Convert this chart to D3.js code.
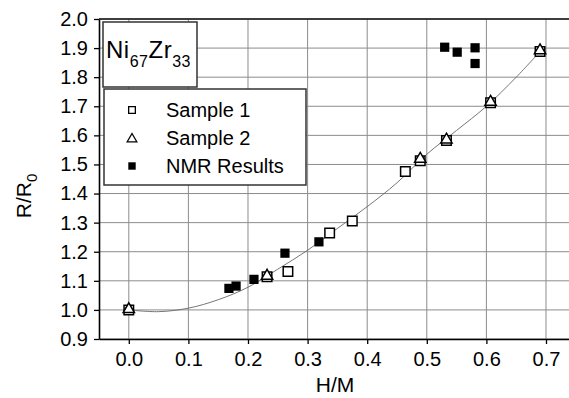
<!DOCTYPE html>
<html>
<head>
<meta charset="utf-8">
<script src="https://cdn.jsdelivr.net/npm/d3@7"></script>
<style>
  body { margin: 0; background: #fff; }
  svg { display: block; font-family: "Liberation Sans", Arial, sans-serif; }
</style>
</head>
<body>
<div id="chart"></div>
<script>
// values
var xTicks = [0.0, 0.1, 0.2, 0.3, 0.4, 0.5, 0.6, 0.7];
var yTicks = [0.9, 1.0, 1.1, 1.2, 1.3, 1.4, 1.5, 1.6, 1.7, 1.8, 1.9, 2.0];

var sample1X = [0.000, 0.232, 0.267, 0.337, 0.375, 0.464, 0.489, 0.533, 0.607, 0.690];
var sample1Y = [1.000, 1.114, 1.132, 1.264, 1.306, 1.476, 1.513, 1.582, 1.712, 1.888];

var sample2X = [0.000, 0.232, 0.489, 0.533, 0.607, 0.690];
var sample2Y = [1.002, 1.117, 1.519, 1.585, 1.715, 1.892];

var nmrX = [0.168, 0.180, 0.210, 0.262, 0.319, 0.530, 0.551, 0.581, 0.581];
var nmrY = [1.074, 1.082, 1.105, 1.195, 1.234, 1.903, 1.886, 1.901, 1.847];

var fitX = [0.00, 0.05, 0.10, 0.15, 0.20, 0.25, 0.30, 0.35, 0.40, 0.45, 0.50, 0.55, 0.60, 0.65, 0.69];
var fitY = [1.000, 0.994, 1.006, 1.035, 1.078, 1.140, 1.205, 1.280, 1.355, 1.437, 1.535, 1.617, 1.700, 1.800, 1.888];

var legendLabels = ["Sample 1", "Sample 2", "NMR Results"];

var W = 569, H = 398;
var margin = {top: 19, right: 0, bottom: 59, left: 99},
    width = W - margin.left - margin.right,
    height = H - margin.top - margin.bottom;

var x = d3.scaleLinear().domain([-0.05, 0.7386]).range([0, width]),
    y = d3.scaleLinear().domain([0.9, 2.0]).range([height, 0]);

var svg = d3.select("#chart").append("svg")
    .attr("width", W)
    .attr("height", H);

var g = svg.append("g")
    .attr("transform", "translate(" + margin.left + "," + margin.top + ")");

// grid
g.append("g").selectAll("line")
    .data(xTicks)
    .enter().append("line")
    .attr("x1", function(d) { return x(d); })
    .attr("x2", function(d) { return x(d); })
    .attr("y1", 0)
    .attr("y2", height)
    .attr("stroke", "#8c8c8c")
    .attr("stroke-width", 1);

g.append("g").selectAll("line")
    .data(yTicks)
    .enter().append("line")
    .attr("x1", 0)
    .attr("x2", width)
    .attr("y1", function(d) { return y(d); })
    .attr("y2", function(d) { return y(d); })
    .attr("stroke", "#8c8c8c")
    .attr("stroke-width", 1);

// top border
g.append("line")
    .attr("x1", 0).attr("x2", width)
    .attr("y1", 0).attr("y2", 0)
    .attr("stroke", "#111").attr("stroke-width", 1.5);

// axes
var xAxis = g.append("g")
    .attr("transform", "translate(0," + height + ")")
    .call(d3.axisBottom(x).tickValues(xTicks).tickFormat(d3.format(".1f")).tickSize(5).tickPadding(8).tickSizeOuter(0));

var yAxis = g.append("g")
    .call(d3.axisLeft(y).tickValues(yTicks).tickFormat(d3.format(".1f")).tickSize(5).tickPadding(6).tickSizeOuter(0));

[xAxis, yAxis].forEach(function(a) {
    a.select(".domain").attr("stroke", "#000").attr("stroke-width", 1.6);
    a.selectAll(".tick line").attr("stroke", "#000").attr("stroke-width", 1.3);
    a.selectAll("text").attr("fill", "#000").style("font-size", "20px");
});

// fitted curve
var line = d3.line()
    .x(function(d) { return x(d[0]); })
    .y(function(d) { return y(d[1]); })
    .curve(d3.curveCatmullRom);

g.append("path")
    .datum(fitX.map(function(v, i) { return [v, fitY[i]]; }))
    .attr("fill", "none")
    .attr("stroke", "#666")
    .attr("stroke-width", 0.9)
    .attr("d", line);

// markers
var sq = d3.symbol().type(d3.symbolSquare).size(90),
    tri = d3.symbol().type(d3.symbolTriangle).size(55),
    fsq = d3.symbol().type(d3.symbolSquare).size(85);

g.append("g").selectAll("path")
    .data(sample1X.map(function(v, i) { return [v, sample1Y[i]]; }))
    .enter().append("path")
    .attr("d", sq)
    .attr("transform", function(d) { return "translate(" + x(d[0]) + "," + y(d[1]) + ")"; })
    .attr("fill", "#fff").attr("stroke", "#000").attr("stroke-width", 1.5);

g.append("g").selectAll("path")
    .data(sample2X.map(function(v, i) { return [v, sample2Y[i]]; }))
    .enter().append("path")
    .attr("d", tri)
    .attr("transform", function(d) { return "translate(" + x(d[0]) + "," + y(d[1]) + ")"; })
    .attr("fill", "#fff").attr("stroke", "#000").attr("stroke-width", 1.5);

g.append("g").selectAll("path")
    .data(nmrX.map(function(v, i) { return [v, nmrY[i]]; }))
    .enter().append("path")
    .attr("d", fsq)
    .attr("transform", function(d) { return "translate(" + x(d[0]) + "," + y(d[1]) + ")"; })
    .attr("fill", "#000");

// composition box
svg.append("rect")
    .attr("x", 103).attr("y", 22).attr("width", 94).attr("height", 65)
    .attr("fill", "#fff").attr("stroke", "#333").attr("stroke-width", 1.5);

var title = svg.append("text")
    .attr("x", 106).attr("y", 58)
    .style("font-size", "24px").style("letter-spacing", "0.5px").attr("fill", "#000");
title.append("tspan").text("Ni");
title.append("tspan").attr("dy", 9).style("font-size", "16px").text("67");
title.append("tspan").attr("dy", -9).text("Zr");
title.append("tspan").attr("dy", 9).style("font-size", "16px").text("33");

// legend
var legend = svg.append("g");
legend.append("rect")
    .attr("x", 104).attr("y", 89).attr("width", 202).attr("height", 96)
    .attr("fill", "#fff").attr("stroke", "#333").attr("stroke-width", 1.5);

var legendY = [110, 138, 166];
var legendSym = [
    d3.symbol().type(d3.symbolSquare).size(45),
    d3.symbol().type(d3.symbolTriangle).size(40),
    d3.symbol().type(d3.symbolSquare).size(55)
];
legendLabels.forEach(function(lab, i) {
    legend.append("path")
        .attr("d", legendSym[i])
        .attr("transform", "translate(132," + (legendY[i] + (i == 1 ? 1 : 0)) + ")")
        .attr("fill", i == 2 ? "#000" : "#fff")
        .attr("stroke", "#000").attr("stroke-width", i == 2 ? 0 : 1.3);
    legend.append("text")
        .attr("x", 166).attr("y", legendY[i] + 7)
        .style("font-size", "20px").attr("fill", "#000")
        .text(lab);
});

// axis titles
svg.append("text")
    .attr("x", margin.left + width / 2 + 1).attr("y", 392)
    .attr("text-anchor", "middle")
    .style("font-size", "21px")
    .text("H/M");

var ylab = svg.append("text")
    .attr("transform", "translate(31,196) rotate(-90)")
    .attr("text-anchor", "middle")
    .style("font-size", "21px");
ylab.append("tspan").text("R/R");
ylab.append("tspan").attr("dy", 6).style("font-size", "15px").text("0");
</script>
</body>
</html>
